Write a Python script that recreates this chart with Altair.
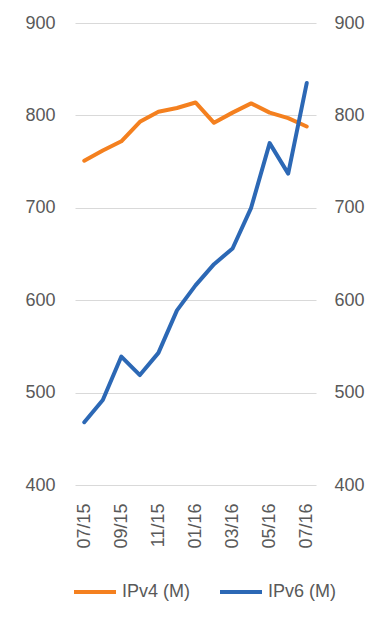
import altair as alt
import pandas as pd

months = ["07/15", "08/15", "09/15", "10/15", "11/15", "12/15", "01/16",
          "02/16", "03/16", "04/16", "05/16", "06/16", "07/16"]
ipv4 = [751, 762, 772, 793, 804, 808, 814, 792, 803, 813, 803, 797, 788]
ipv6 = [468, 492, 539, 519, 543, 589, 616, 639, 656, 700, 770, 737, 835]
series_names = ["IPv4 (M)", "IPv6 (M)"]
tick_labels = ["07/15", "09/15", "11/15", "01/16", "03/16", "05/16", "07/16"]
colors = ["#F4801F", "#2C68B5"]

rows = []
for m, a, b in zip(months, ipv4, ipv6):
    rows.append({"month": m, "series": series_names[0], "value": a})
    rows.append({"month": m, "series": series_names[1], "value": b})
df = pd.DataFrame(rows)

FONT = "Liberation Sans"
GRAY = "#595959"

x_enc = alt.X(
    "month:O",
    sort=months,
    scale=alt.Scale(type="point", padding=0.5),
    axis=alt.Axis(
        title=None, values=tick_labels, labelAngle=-90, labelAlign="right",
        labelBaseline="middle", labelPadding=18, ticks=False, domain=False,
        labelFont=FONT, labelFontSize=18, labelColor=GRAY, grid=False,
    ),
)

base = alt.Chart(df)

left = base.mark_line(strokeWidth=4, strokeJoin="round", strokeCap="round").encode(
    x=x_enc,
    y=alt.Y(
        "value:Q",
        scale=alt.Scale(domain=[400, 900], nice=False, zero=False),
        axis=alt.Axis(
            title=None, orient="left", values=[400, 500, 600, 700, 800, 900],
            ticks=False, domain=False, grid=True, gridColor="#d9d9d9",
            gridWidth=1.2, labelPadding=20, labelFont=FONT, labelFontSize=18,
            labelColor=GRAY,
        ),
    ),
    color=alt.Color(
        "series:N",
        scale=alt.Scale(domain=series_names, range=colors),
        legend=alt.Legend(
            title=None, orient="none", direction="horizontal",
            legendX=-3, legendY=546, symbolType="stroke", symbolSize=1764,
            symbolStrokeWidth=4, labelFont=FONT, labelFontSize=18,
            labelColor=GRAY, labelOffset=4, columnPadding=21, padding=0,
        ),
    ),
)

right = base.mark_line(opacity=0).encode(
    x=x_enc,
    y=alt.Y(
        "value:Q",
        scale=alt.Scale(domain=[400, 900], nice=False, zero=False),
        axis=alt.Axis(
            title=None, orient="right", values=[400, 500, 600, 700, 800, 900],
            ticks=False, domain=False, grid=False, labelPadding=18,
            labelFont=FONT, labelFontSize=18, labelColor=GRAY,
        ),
    ),
    detail="series:N",
)

chart = (
    alt.layer(left, right)
    .resolve_scale(y="independent")
    .properties(
        width=241, height=462,
        background="white",
        autosize=alt.AutoSizeParams(type="none"),
        padding={"left": 67, "top": 15, "right": 66, "bottom": 128},
    )
    .configure_view(stroke="transparent", strokeWidth=0)
)

chart.save("out.html", embed_options={"renderer": "svg", "actions": False})
